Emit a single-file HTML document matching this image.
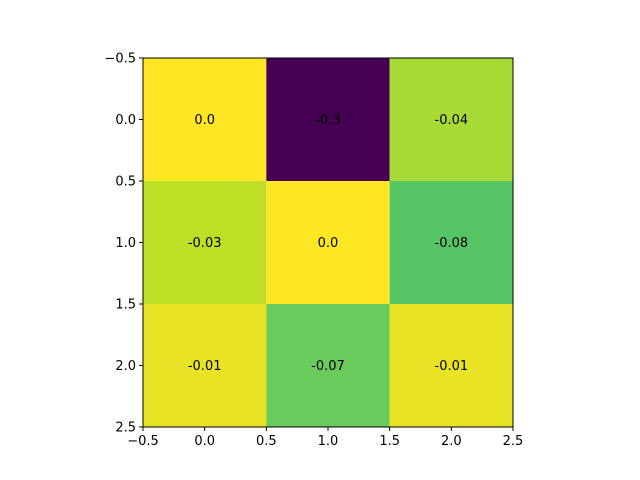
<!DOCTYPE html>
<html><head><meta charset="utf-8"><style>
body{margin:0;background:#fff;}
svg{display:block;font-family:"DejaVu Sans","Liberation Sans",sans-serif;}
</style></head><body>
<svg id="chart" width="640" height="480"></svg>
<script>
const rowLabels=[0,1,2];
const colLabels=[0,1,2];
const values=[[0.0,-0.3,-0.04],[-0.03,0.0,-0.08],[-0.01,-0.07,-0.01]];
const printed=[["0.0","-0.3","-0.04"],["-0.03","0.0","-0.08"],["-0.01","-0.07","-0.01"]];
const xTicks=[-0.5,0.0,0.5,1.0,1.5,2.0,2.5];
const yTicks=[-0.5,0.0,0.5,1.0,1.5,2.0,2.5];
const tickText=["\u22120.5","0.0","0.5","1.0","1.5","2.0","2.5"];

const NS="http://www.w3.org/2000/svg";
const svg=document.getElementById('chart');
const L=143,R=513,T=58,B=427;
const xs=v=>L+(v+0.5)/3*(R-L);
const ys=v=>T+(v+0.5)/3*(B-T);
const stops=["#440154","#482475","#414487","#355f8d","#2a788e","#21918c","#22a884","#44bf70","#7ad151","#bddf26","#fde725"];
function hex(h){return [1,3,5].map(i=>parseInt(h.substr(i,2),16));}
function viridis(t){t=Math.max(0,Math.min(1,t));const p=t*10,i=Math.min(9,Math.floor(p)),f=p-i;
 const a=hex(stops[i]),b=hex(stops[i+1]);return 'rgb('+a.map((x,k)=>Math.round(x+(b[k]-x)*f)).join(',')+')';}
const flat=values.flat(),vmin=Math.min(...flat),vmax=Math.max(...flat);
function el(tag,attrs,parent){const e=document.createElementNS(NS,tag);for(const k in attrs)e.setAttribute(k,attrs[k]);(parent||svg).appendChild(e);return e;}
rowLabels.forEach((r,i)=>colLabels.forEach((c,j)=>{
 const v=values[i][j];
 const rect=el('rect',{x:xs(c-0.5),y:ys(r-0.5),width:xs(c+0.5)-xs(c-0.5),height:ys(r+0.5)-ys(r-0.5),fill:viridis((v-vmin)/(vmax-vmin||1))});
 
 
 const t=el('text',{x:xs(c),y:ys(r)+4.5,'text-anchor':'middle','font-size':'13',fill:'#000'});
 t.textContent=printed[i][j];
 
 
}));
const frame=el('rect',{x:L,y:T,width:R-L,height:B-T,fill:'none',stroke:'#000','stroke-width':'1'});


xTicks.forEach((v,i)=>{
 const x=xs(v);
 el('line',{x1:x,x2:x,y1:B,y2:B+4,stroke:'#000'});
 const t=el('text',{x:x,y:B+18,'text-anchor':'middle','font-size':'13'});
 t.textContent=tickText[i];
 
 
});
yTicks.forEach((v,i)=>{
 const y=ys(v);
 el('line',{x1:L-4,x2:L,y1:y,y2:y,stroke:'#000'});
 const t=el('text',{x:L-7,y:y+4.5,'text-anchor':'end','font-size':'13'});
 t.textContent=tickText[i];
 
 
});
</script>
</body></html>
